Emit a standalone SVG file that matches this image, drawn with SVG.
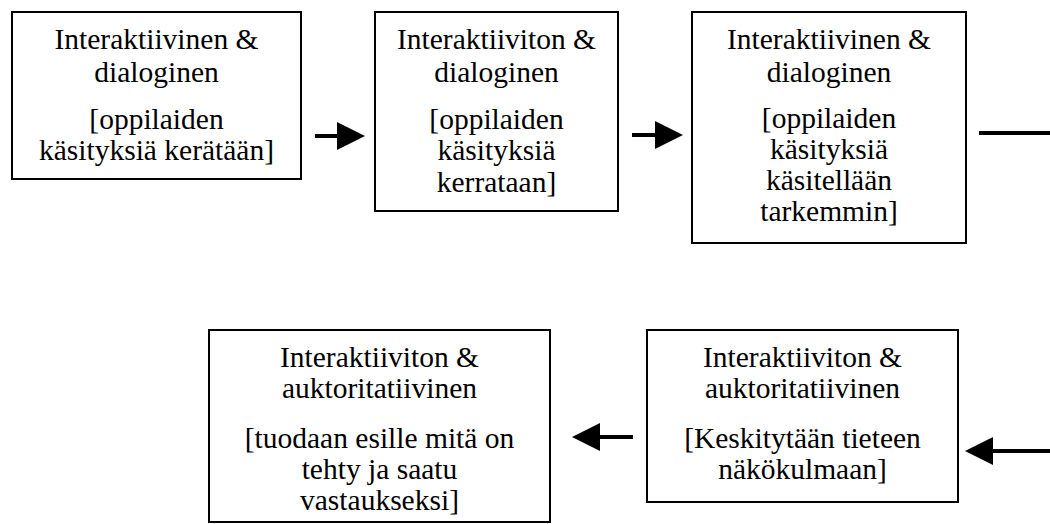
<svg xmlns="http://www.w3.org/2000/svg" width="1050" height="524" viewBox="0 0 1050 524">
  <style>
    .box { fill: #ffffff; stroke: #000000; stroke-width: 2; }
    .lbl { font-family: "Liberation Serif", "Times New Roman", serif; font-size: 29.5px; fill: #000000; text-anchor: middle; }
    .conn { stroke: #000000; stroke-width: 4; fill: none; }
  </style>
  <defs>
    <marker id="head" viewBox="0 0 28 28" refX="2" refY="14" markerWidth="28" markerHeight="28" markerUnits="userSpaceOnUse" orient="auto">
      <path d="M0,0 L28,14 L0,28 Z" fill="#000000"/>
    </marker>
  </defs>

  <rect width="1050" height="524" fill="#ffffff"/>

  <g id="connectors">
    <line class="conn" x1="315" y1="136" x2="339" y2="136" marker-end="url(#head)"/>
    <line class="conn" x1="632" y1="135" x2="657" y2="135" marker-end="url(#head)"/>
    <line class="conn" x1="979" y1="133" x2="1050" y2="133"/>
    <line class="conn" x1="1050" y1="451" x2="991" y2="451" marker-end="url(#head)"/>
    <line class="conn" x1="633" y1="437" x2="598" y2="437" marker-end="url(#head)"/>
  </g>

  <g id="node1">
    <rect class="box" x="12" y="12" width="289" height="167"/>
    <text class="lbl" x="156.5" y="49">Interaktiivinen &amp;</text>
    <text class="lbl" x="156.5" y="82">dialoginen</text>
    <text class="lbl" x="156.5" y="129">[oppilaiden</text>
    <text class="lbl" x="156.5" y="160">käsityksiä kerätään]</text>
  </g>

  <g id="node2">
    <rect class="box" x="375" y="12" width="243" height="199"/>
    <text class="lbl" x="496.5" y="49">Interaktiiviton &amp;</text>
    <text class="lbl" x="496.5" y="82">dialoginen</text>
    <text class="lbl" x="496.5" y="129">[oppilaiden</text>
    <text class="lbl" x="496.5" y="160">käsityksiä</text>
    <text class="lbl" x="496.5" y="192">kerrataan]</text>
  </g>

  <g id="node3">
    <rect class="box" x="692" y="12" width="274" height="231"/>
    <text class="lbl" x="829" y="49">Interaktiivinen &amp;</text>
    <text class="lbl" x="829" y="82">dialoginen</text>
    <text class="lbl" x="829" y="128">[oppilaiden</text>
    <text class="lbl" x="829" y="159">käsityksiä</text>
    <text class="lbl" x="829" y="190">käsitellään</text>
    <text class="lbl" x="829" y="221">tarkemmin]</text>
  </g>

  <g id="node4">
    <rect class="box" x="209" y="330" width="341" height="192"/>
    <text class="lbl" x="379.5" y="367">Interaktiiviton &amp;</text>
    <text class="lbl" x="379.5" y="398">auktoritatiivinen</text>
    <text class="lbl" x="379.5" y="448">[tuodaan esille mitä on</text>
    <text class="lbl" x="379.5" y="479">tehty ja saatu</text>
    <text class="lbl" x="379.5" y="510">vastaukseksi]</text>
  </g>

  <g id="node5">
    <rect class="box" x="647" y="330" width="311" height="172"/>
    <text class="lbl" x="802.5" y="367">Interaktiiviton &amp;</text>
    <text class="lbl" x="802.5" y="398">auktoritatiivinen</text>
    <text class="lbl" x="802.5" y="448">[Keskitytään tieteen</text>
    <text class="lbl" x="802.5" y="479">näkökulmaan]</text>
  </g>
</svg>
